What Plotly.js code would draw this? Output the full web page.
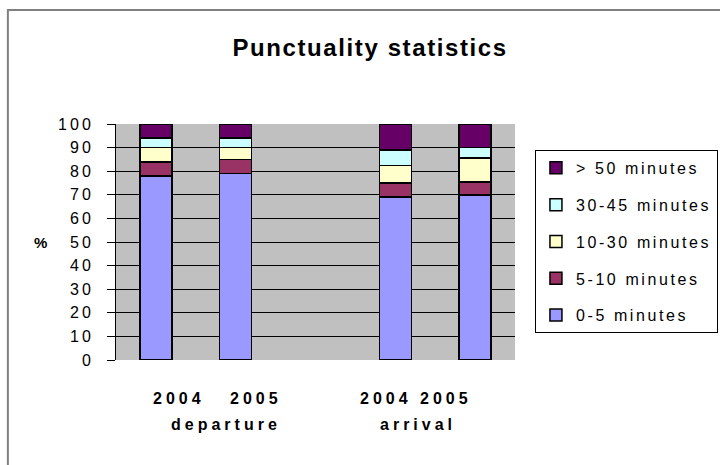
<!DOCTYPE html>
<html>
<head>
<meta charset="utf-8">
<script src="https://cdn.plot.ly/plotly-3.0.1.min.js"></script>
<style>
  html, body { margin: 0; padding: 0; background: #fff; }
  #chart { width: 720px; height: 465px; }
  .gtitle { letter-spacing: 1.6px; }
  .ytick text { letter-spacing: 3px; }
  .legendtext { letter-spacing: 2.6px; }
  .annotation-text { letter-spacing: 4px; }
</style>
</head>
<body>
<div id="chart"></div>
<script>
// ---- data ----
const groups = ['departure', 'arrival'];
const years = ['2004', '2005'];
const seriesNames = ['0-5 minutes', '5-10 minutes', '10-30 minutes', '30-45 minutes', '> 50 minutes'];
// values per bar: departure 2004, departure 2005, arrival 2004, arrival 2005
const v0_5   = [78, 79, 69, 70];
const v5_10  = [6, 6, 6, 5.5];
const v10_30 = [6, 5, 7.5, 10];
const v30_45 = [4, 4, 6.5, 4.5];
const v50    = [6, 6, 11, 10];
const yTicks = [0, 10, 20, 30, 40, 50, 60, 70, 80, 90, 100];

const seriesValues = [v0_5, v5_10, v10_30, v30_45, v50];
const colors = ['#9999FF', '#993366', '#FFFFCC', '#CCFFFF', '#660066'];

// bar slots: each group holds its years, with one empty slot between groups
const xs = [];
groups.forEach((g, gi) => years.forEach((y, yi) => xs.push(gi * (years.length + 1) + yi)));
const nSlots = groups.length * (years.length + 1) - 1;

const traces = seriesNames.map((name, i) => ({
  type: 'bar',
  name: name,
  x: xs,
  y: seriesValues[i],
  width: 0.4,
  legendgroup: 'g' + i,
  legendrank: 1000 + (seriesNames.length - i),
  marker: { color: colors[i], line: { color: '#000000', width: 1.5 } },
  hoverinfo: 'skip'
}));

const font = 'Liberation Sans, Arial, sans-serif';
const annotations = [];
const yearLabelX = [0.158, 0.351, 0.677, 0.827];
const groupLabelX = [0.276, 0.757];
let k = 0;
groups.forEach((g, gi) => {
  years.forEach((y) => {
    annotations.push({ xref: 'paper', yref: 'paper', x: yearLabelX[k++], y: -0.165,
      text: y, showarrow: false, xanchor: 'center', yanchor: 'middle',
      font: { family: font, size: 16, color: '#000', weight: 'bold' } });
  });
  annotations.push({ xref: 'paper', yref: 'paper', x: groupLabelX[gi], y: -0.272,
    text: g, showarrow: false, xanchor: 'center', yanchor: 'middle',
    font: { family: font, size: 16, color: '#000', weight: 'bold' } });
});
annotations.push({ xref: 'paper', yref: 'paper', x: -0.185, y: 0.5,
  text: '%', showarrow: false, xanchor: 'center', yanchor: 'middle',
  font: { family: font, size: 15, color: '#000', weight: 'bold' } });

const layout = {
  width: 720, height: 465,
  margin: { l: 116, r: 205, t: 124, b: 105, autoexpand: false },
  paper_bgcolor: '#ffffff',
  plot_bgcolor: '#C0C0C0',
  barmode: 'stack',
  showlegend: true,
  title: { text: 'Punctuality statistics', x: 0.514, xanchor: 'center', xref: 'container',
    y: 0.897, yanchor: 'middle', yref: 'container', automargin: false,
    font: { family: font, size: 24, color: '#000', weight: 'bold' } },
  xaxis: { range: [-0.5, nSlots - 0.5], showticklabels: false, ticks: '', showgrid: false,
    zeroline: false, showline: false, fixedrange: true, automargin: false },
  yaxis: { range: [0, 100], tickvals: yTicks, ticktext: yTicks.map(String), ticks: 'outside',
    ticklen: 8, tickcolor: '#000', tickwidth: 1, showline: true, linecolor: '#000', linewidth: 1,
    showgrid: true, gridcolor: '#000000', gridwidth: 1, zeroline: false, automargin: false,
    tickfont: { family: font, size: 16, color: '#000' }, ticklabelstandoff: 10, fixedrange: true },
  legend: { x: 1.05, y: 0.89, xanchor: 'left', yanchor: 'top', traceorder: 'grouped',
    tracegroupgap: 13, bgcolor: '#ffffff', bordercolor: '#000000', borderwidth: 1,
    entrywidth: 200, entrywidthmode: 'pixels',
    font: { family: font, size: 16, color: '#000' } },
  annotations: annotations,
  shapes: [{ type: 'rect', xref: 'paper', yref: 'paper', x0: -0.271, x1: 1.6, y0: -0.55, y1: 1.483,
    line: { color: '#808080', width: 2 }, fillcolor: 'rgba(0,0,0,0)', layer: 'below' }]
};

Plotly.newPlot('chart', traces, layout, { staticPlot: true, displayModeBar: false });
</script>
</body>
</html>
